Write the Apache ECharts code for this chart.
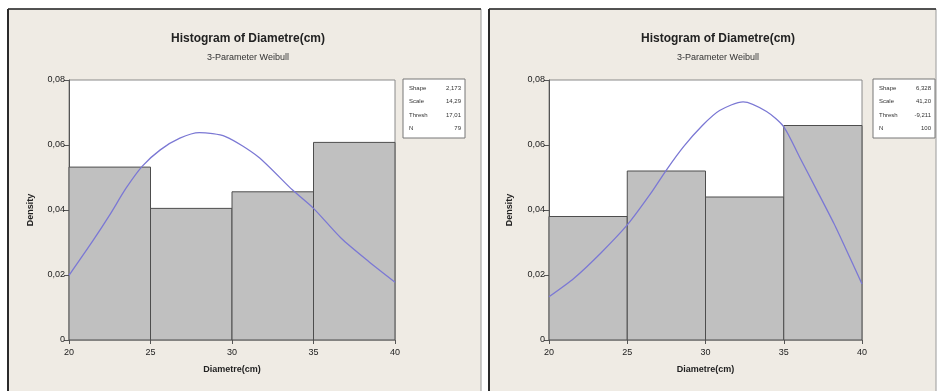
<!DOCTYPE html>
<html>
<head>
<meta charset="utf-8">
<script src="https://cdn.jsdelivr.net/npm/echarts@6/dist/echarts.min.js"></script>
<style>
  html, body { margin: 0; padding: 0; background: #ffffff; }
  #chart { width: 940px; height: 391px; }
</style>
</head>
<body>
<div id="chart"></div>
<script>
// Histogram bin edges (cm) shared by both panels
const binEdges = [20, 25, 30, 35, 40];

// Left panel: bar densities and fitted 3-parameter Weibull curve
const leftDensity = [0.0532, 0.0405, 0.0456, 0.0608];
const leftCurveX = [20, 21.5, 22.5, 23.5, 24.5, 25.6, 26.8, 28, 29.6, 31.6, 33.7, 35, 36.7, 38.4, 40];
const leftCurveY = [0.0199, 0.0308, 0.0385, 0.0467, 0.0535, 0.0585, 0.0621, 0.0638, 0.0626, 0.0564, 0.0462, 0.0405, 0.0313, 0.0241, 0.0178];
const leftStatsLabels = ['Shape', 'Scale', 'Thresh', 'N'];
const leftStatsValues = ['2,173', '14,29', '17,01', '79'];

// Right panel: bar densities and fitted 3-parameter Weibull curve
const rightDensity = [0.038, 0.052, 0.044, 0.066];
const rightCurveX = [20, 21.6, 23.3, 25, 26.5, 27.5, 28.6, 29.8, 30.9, 32.4, 33.9, 35, 36, 37.1, 38.2, 39.2, 40];
const rightCurveY = [0.0133, 0.0190, 0.0267, 0.0354, 0.0451, 0.0523, 0.0595, 0.0660, 0.0706, 0.0733, 0.0703, 0.0656, 0.0564, 0.0462, 0.0359, 0.0256, 0.0172];
const rightStatsLabels = ['Shape', 'Scale', 'Thresh', 'N'];
const rightStatsValues = ['6,328', '41,20', '-9,211', '100'];

// Axis settings
const xMin = 20, xMax = 40, xStep = 5;
const yMin = 0, yMax = 0.08, yStep = 0.02;

const titleText = 'Histogram of Diametre(cm)';
const subtitleText = '3-Parameter Weibull';
const xName = 'Diametre(cm)';
const yName = 'Density';

const FONT = 'Liberation Sans';
const PANEL_BG = '#efebe4';
const BAR_FILL = '#c0c0c0';
const BAR_EDGE = '#4d4d4d';
const CURVE = '#7b78d4';

function fmtY(v) {
  if (v === 0) return '0';
  return v.toFixed(2).replace('.', ',');
}

function xAxisFor(gridIndex) {
  return {
    type: 'value', gridIndex, min: xMin, max: xMax, interval: xStep,
    name: xName, nameLocation: 'middle', nameGap: 25,
    nameTextStyle: { fontFamily: FONT, fontSize: 9, fontWeight: 'bold', color: '#222' },
    axisLine: { show: false },
    axisTick: { show: true, length: 4, lineStyle: { color: '#555' } },
    axisLabel: { fontFamily: FONT, fontSize: 9, color: '#222', margin: 8 },
    splitLine: { show: false }
  };
}

function yAxisFor(gridIndex, gap) {
  return {
    type: 'value', gridIndex, min: yMin, max: yMax, interval: yStep,
    name: yName, nameLocation: 'middle', nameGap: gap,
    nameTextStyle: { fontFamily: FONT, fontSize: 9, fontWeight: 'bold', color: '#222' },
    axisLine: { show: true, lineStyle: { color: '#555', width: 1 } },
    axisTick: { show: true, length: 5, lineStyle: { color: '#555' } },
    axisLabel: { fontFamily: FONT, fontSize: 9, color: '#222', margin: 4, formatter: fmtY },
    splitLine: { show: false }
  };
}

function histSeries(idx, density) {
  const data = density.map((d, i) => [binEdges[i], binEdges[i + 1], d]);
  return {
    type: 'custom', xAxisIndex: idx, yAxisIndex: idx, data,
    renderItem: function (params, api) {
      const p0 = api.coord([api.value(0), api.value(2)]);
      const p1 = api.coord([api.value(1), 0]);
      return {
        type: 'rect',
        shape: { x: p0[0], y: p0[1], width: p1[0] - p0[0], height: p1[1] - p0[1] },
        style: { fill: BAR_FILL, stroke: BAR_EDGE, lineWidth: 1 }
      };
    },
    z: 2
  };
}

function curveSeries(idx, xs, ys) {
  return {
    type: 'line', xAxisIndex: idx, yAxisIndex: idx,
    data: xs.map((x, i) => [x, ys[i]]),
    smooth: 0.25, showSymbol: false, silent: true,
    lineStyle: { color: CURVE, width: 1.3 },
    z: 3
  };
}

function statsBox(x, labels, values) {
  const children = [{
    type: 'rect', shape: { x: x, y: 79, width: 62, height: 59 },
    style: { fill: '#ffffff', stroke: '#777', lineWidth: 1 }
  }];
  labels.forEach((lab, i) => {
    const y = 88 + i * 13.5;
    children.push({ type: 'text', x: x + 6, y: y,
      style: { text: lab, font: '6px ' + FONT, fill: '#333', verticalAlign: 'middle' } });
    children.push({ type: 'text', x: x + 58, y: y,
      style: { text: values[i], font: '6px ' + FONT, fill: '#333', align: 'right', verticalAlign: 'middle' } });
  });
  return { type: 'group', children };
}

function panel(x, w) {
  return [
    { type: 'rect', shape: { x: x, y: 9, width: w, height: 390 },
      style: { fill: PANEL_BG, stroke: '#9a9a9a', lineWidth: 1 }, z: -10 },
    { type: 'line', shape: { x1: x, y1: 9, x2: x, y2: 391 },
      style: { stroke: '#2a2a2a', lineWidth: 2 }, z: -9 },
    { type: 'line', shape: { x1: x, y1: 9, x2: x + w, y2: 9 },
      style: { stroke: '#2a2a2a', lineWidth: 1.5 }, z: -9 }
  ];
}

const chart = echarts.init(document.getElementById('chart'), null, { renderer: 'canvas' });

chart.setOption({
  animation: false,
  backgroundColor: '#ffffff',
  title: [
    { text: titleText, left: 243, top: 28, textAlign: 'center',
      textStyle: { fontFamily: FONT, fontSize: 12, fontWeight: 'bold', color: '#222' } },
    { text: subtitleText, left: 243, top: 48, textAlign: 'center',
      textStyle: { fontFamily: FONT, fontSize: 9, fontWeight: 'normal', color: '#333' } },
    { text: titleText, left: 713, top: 28, textAlign: 'center',
      textStyle: { fontFamily: FONT, fontSize: 12, fontWeight: 'bold', color: '#222' } },
    { text: subtitleText, left: 713, top: 48, textAlign: 'center',
      textStyle: { fontFamily: FONT, fontSize: 9, fontWeight: 'normal', color: '#333' } }
  ],
  grid: [
    { left: 69, top: 80, width: 326, height: 260, show: true,
      backgroundColor: '#ffffff', borderColor: '#8a8a8a', borderWidth: 1 },
    { left: 549, top: 80, width: 313, height: 260, show: true,
      backgroundColor: '#ffffff', borderColor: '#8a8a8a', borderWidth: 1 }
  ],
  xAxis: [xAxisFor(0), xAxisFor(1)],
  yAxis: [yAxisFor(0, 34), yAxisFor(1, 35)],
  series: [
    histSeries(0, leftDensity),
    curveSeries(0, leftCurveX, leftCurveY),
    histSeries(1, rightDensity),
    curveSeries(1, rightCurveX, rightCurveY)
  ],
  graphic: [
    ...panel(8, 473),
    ...panel(489, 447),
    statsBox(403, leftStatsLabels, leftStatsValues),
    statsBox(873, rightStatsLabels, rightStatsValues)
  ]
});
</script>
</body>
</html>
